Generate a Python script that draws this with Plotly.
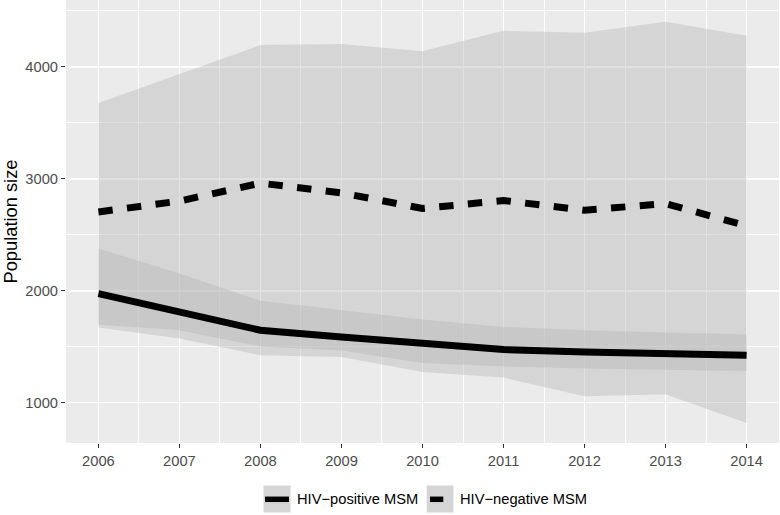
import plotly.graph_objects as go

# ---- data ----
years = [2006, 2007, 2008, 2009, 2010, 2011, 2012, 2013, 2014]
pos_median = [1974, 1810, 1646, 1585, 1533, 1474, 1452, 1443, 1423]
pos_upper = [2376, 2153, 1910, 1825, 1742, 1676, 1646, 1626, 1608]
pos_lower = [1697, 1646, 1500, 1465, 1354, 1324, 1304, 1295, 1282]
neg_median = [2703, 2800, 2960, 2873, 2734, 2805, 2718, 2778, 2578]
neg_upper = [3677, 3937, 4193, 4202, 4139, 4321, 4303, 4401, 4276]
neg_lower = [1670, 1572, 1423, 1408, 1273, 1223, 1056, 1074, 818]
y_ticks = [1000, 2000, 3000, 4000]
series_names = ["HIV\u2212positive MSM", "HIV\u2212negative MSM"]

# ---- layout geometry (pixels) ----
W, H = 780, 515
L, R, T, B = 66, 1, 0, 72
PW, PH = W - L - R, H - T - B


def px(x):
    return (x - L) / PW


def py(y):
    return (H - B - y) / PH


RIBBON = "rgba(179,179,179,0.4)"
FONT = "Liberation Sans, Arial, sans-serif"

fig = go.Figure()

for lo, hi in [(neg_lower, neg_upper), (pos_lower, pos_upper)]:
    fig.add_trace(go.Scatter(
        x=years + years[::-1], y=hi + lo[::-1],
        fill="toself", fillcolor=RIBBON, line=dict(width=0),
        mode="lines", hoverinfo="skip", showlegend=False))

fig.add_trace(go.Scatter(x=years, y=pos_median, mode="lines", name=series_names[0],
                         line=dict(color="black", width=7), showlegend=False))
fig.add_trace(go.Scatter(x=years, y=neg_median, mode="lines", name=series_names[1],
                         line=dict(color="black", width=7, dash="14.4px,14.4px"),
                         showlegend=False))

# ---- custom ggplot-style legend ----
shapes = []
annotations = []
keys = [(263.5, 290.5, "solid", 295), (426.7, 453.5, "dash", 458.3)]
for (kx0, kx1, style, tx), name in zip(keys, series_names):
    shapes.append(dict(type="rect", xref="paper", yref="paper",
                       x0=px(kx0), x1=px(kx1), y0=py(512.5), y1=py(485.5),
                       fillcolor="#D5D5D5", line=dict(width=0), layer="above"))
    if style == "solid":
        lx0, lx1 = kx0 + 1.5, kx1 - 1.5
    else:
        lx0, lx1 = kx0 + 3.3, kx0 + 16.6
    shapes.append(dict(type="line", xref="paper", yref="paper",
                       x0=px(lx0), x1=px(lx1), y0=py(499.3), y1=py(499.3),
                       line=dict(color="black", width=5.5), layer="above"))
    annotations.append(dict(text=name, xref="paper", yref="paper",
                            x=px(tx), y=py(499.3), xanchor="left", yanchor="middle",
                            showarrow=False, font=dict(family=FONT, size=14.7, color="black")))

fig.update_layout(
    width=W, height=H,
    margin=dict(l=L, r=R, t=T, b=B),
    paper_bgcolor="white", plot_bgcolor="#EBEBEB",
    font=dict(family=FONT, size=14.7, color="#4D4D4D"),
    showlegend=False,
    shapes=shapes, annotations=annotations,
)
fig.update_xaxes(
    range=[2005.6, 2014.4], tickmode="array", tickvals=years,
    ticktext=[str(y) for y in years],
    showgrid=True, gridcolor="white", gridwidth=1.8,
    minor=dict(dtick=0.5, tick0=2005.5, showgrid=True, gridcolor="white", gridwidth=0.9),
    ticks="outside", ticklen=4, tickwidth=1.1, tickcolor="#333333",
    zeroline=False, showline=False, automargin=False,
    tickfont=dict(family=FONT, size=14.7, color="#4D4D4D"),
)
fig.update_yaxes(
    range=[639, 4596], tickmode="array", tickvals=y_ticks,
    ticktext=[str(v) for v in y_ticks],
    showgrid=True, gridcolor="white", gridwidth=1.8,
    minor=dict(dtick=500, tick0=0, showgrid=True, gridcolor="white", gridwidth=0.9),
    ticks="outside", ticklen=4, tickwidth=1.1, tickcolor="#333333",
    zeroline=False, showline=False, automargin=False,
    tickfont=dict(family=FONT, size=14.7, color="#4D4D4D"),
    title=dict(text="Population size", standoff=7,
               font=dict(family=FONT, size=18.3, color="black")),
)

fig.write_html("out.html", config={"displayModeBar": False, "staticPlot": True},
               post_script="document.body.style.margin='0';document.body.style.overflow='hidden';")
